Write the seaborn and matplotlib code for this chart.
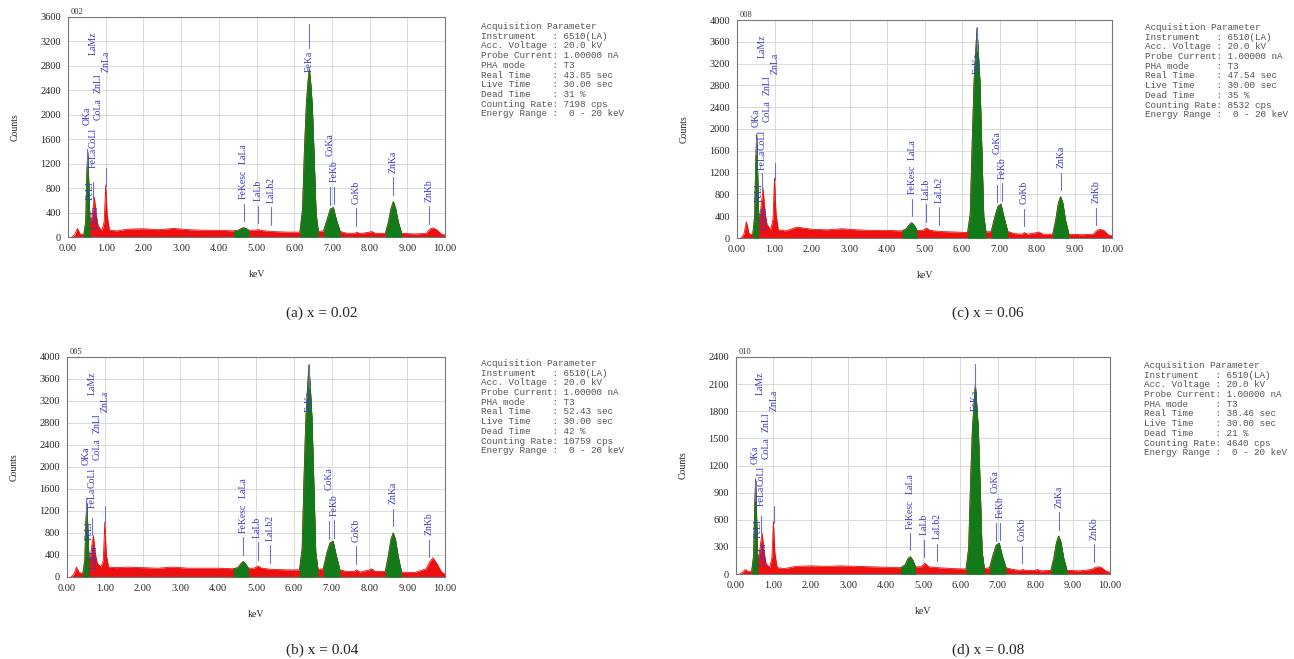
import numpy as np
import matplotlib
matplotlib.use("Agg")
import matplotlib.pyplot as plt
import seaborn as sns
import pandas as pd

# ---------------- data ----------------
energy_kev = [0.10, 0.18, 0.25, 0.32, 0.42, 0.47, 0.50, 0.525, 0.55, 0.58,
              0.62, 0.66, 0.70, 0.74, 0.80, 0.90, 0.96, 1.00, 1.04, 1.10,
              1.30, 1.60, 2.00, 2.40, 2.80, 3.20, 3.60, 4.00, 4.40, 4.52,
              4.60, 4.66, 4.72, 4.80, 4.95, 5.05, 5.15, 5.40, 5.80, 6.15,
              6.22, 6.27, 6.32, 6.36, 6.40, 6.44, 6.48, 6.53, 6.58, 6.64,
              6.78, 6.88, 6.96, 7.04, 7.12, 7.22, 7.40, 7.60, 7.66, 7.75,
              8.00, 8.06, 8.15, 8.42, 8.50, 8.57, 8.63, 8.69, 8.76, 8.85,
              9.20, 9.50, 9.60, 9.68, 9.78, 9.90, 10.00]

counts_002 = [0, 40, 140, 50, 40, 250, 1050, 1400, 900, 300,
              250, 450, 650, 400, 180, 100, 250, 850, 350, 110,
              100, 130, 135, 120, 140, 120, 110, 110, 100, 110,
              140, 150, 140, 110, 110, 120, 105, 90, 80, 80,
              450, 1400, 2150, 2500, 2750, 2500, 2150, 1300, 380, 90,
              100, 300, 460, 480, 280, 90, 60, 60, 80, 55,
              80, 90, 60, 60, 250, 470, 580, 470, 250, 60,
              50, 60, 130, 150, 120, 50, 30]

counts_005 = [0, 50, 180, 80, 70, 300, 1000, 1350, 900, 350,
              350, 600, 750, 450, 250, 180, 300, 1000, 400, 180,
              170, 180, 170, 160, 180, 160, 160, 160, 150, 170,
              240, 280, 240, 160, 160, 200, 160, 140, 130, 130,
              500, 1800, 2900, 3400, 3850, 3400, 2900, 1700, 450, 140,
              150, 450, 620, 650, 400, 130, 100, 100, 130, 90,
              130, 150, 100, 100, 380, 680, 800, 680, 380, 90,
              80, 150, 280, 350, 250, 100, 50]

counts_008 = [0, 60, 300, 80, 60, 400, 1400, 1900, 1200, 400,
              450, 700, 900, 500, 250, 150, 350, 1100, 450, 150,
              130, 200, 160, 150, 170, 150, 140, 140, 130, 170,
              250, 280, 240, 140, 140, 180, 140, 120, 110, 100,
              450, 1700, 2850, 3350, 3850, 3350, 2850, 1600, 400, 110,
              120, 400, 580, 620, 380, 120, 80, 70, 100, 70,
              100, 110, 70, 70, 330, 640, 760, 640, 330, 70,
              60, 70, 140, 160, 140, 60, 40]

counts_010 = [0, 20, 50, 30, 30, 200, 750, 1050, 650, 200,
              200, 350, 450, 280, 120, 70, 180, 580, 230, 70,
              60, 85, 90, 85, 90, 85, 80, 75, 70, 100,
              170, 190, 160, 80, 80, 120, 80, 70, 60, 55,
              280, 1000, 1600, 1850, 2100, 1850, 1600, 950, 250, 60,
              70, 220, 320, 340, 200, 70, 50, 40, 50, 40,
              40, 50, 35, 40, 180, 350, 420, 350, 180, 40,
              35, 50, 70, 80, 70, 30, 20]

sample_ids = ["002", "005", "008", "010"]
captions = ["(a) x = 0.02", "(b) x = 0.04", "(c) x = 0.06", "(d) x = 0.08"]
real_time = ["43.85", "52.43", "47.54", "38.46"]
dead_time = ["31", "42", "35", "21"]
count_rate = ["7198", "10759", "8532", "4640"]
y_max = [3600, 4000, 4000, 2400]
y_step = [400, 400, 400, 300]

line_names = ["OKa", "FeLl", "CoLl", "FeLa", "LaMz", "LaMa", "CoLa", "ZnLl",
              "ZnLa", "FeKesc", "LaLa", "LaLb", "LaLb2", "FeKa", "FeKb",
              "CoKa", "CoKb", "ZnKa", "ZnKb"]
line_kev = [0.50, 0.58, 0.67, 0.67, 0.66, 0.72, 0.80, 0.80,
            1.01, 4.66, 4.66, 5.04, 5.38, 6.40, 7.06,
            6.94, 7.65, 8.63, 9.57]

# identified peak windows (filled green)
green_windows = [(0.42, 0.58), (4.40, 4.80), (6.15, 6.64), (6.78, 7.22), (8.42, 8.85)]

# ---------------- layout / style ----------------
SERIF = "Liberation Serif"
MONO = "Liberation Mono"
RED = "#ec1010"
GREEN = "#127a18"
BLUE = "#3a3ac8"
MARK = "#6f6fd2"

# fixed text levels (axes fraction, center) for stacked labels
fixed_level = {"OKa": 0.55, "FeLl": 0.21, "CoLl": 0.45, "FeLa": 0.36,
               "LaMz": 0.88, "LaMa": 0.09, "CoLa": 0.58, "ZnLl": 0.70,
               "ZnLa": 0.80, "FeKa": 0.80}
stack_extra = {"LaLa": 0.16, "CoKa": 0.12}
draw_marker = {"OKa", "FeLa", "ZnLa", "FeKesc", "LaLb", "LaLb2", "FeKb",
               "CoKa", "CoKb", "ZnKa", "ZnKb"}

W, H = 1294, 659
axes_px = {  # left, right, top, bottom in pixels
    "002": (68, 445, 17, 237),
    "005": (67, 445, 357, 577),
    "008": (737, 1112, 20, 238),
    "010": (736, 1110, 357, 574),
}
caption_px = {"002": (322, 313), "005": (322, 650), "008": (988, 313), "010": (988, 650)}
info_px = {"002": (481, 22), "005": (481, 359), "008": (1145, 23), "010": (1144, 361)}

sns.set_theme(style="white")
plt.rcParams["font.family"] = [SERIF, "DejaVu Sans"]

fig = plt.figure(figsize=(W / 100, H / 100), dpi=100)

all_counts = [counts_002, counts_005, counts_008, counts_010]
E = np.array(energy_kev)

for i, sid in enumerate(sample_ids):
    C = np.array(all_counts[i], dtype=float)
    l, r, t, b = axes_px[sid]
    ax = fig.add_axes([l / W, 1 - b / H, (r - l) / W, (b - t) / H])
    ymax = y_max[i]

    df = pd.DataFrame({"keV": E, "Counts": C})
    ax.fill_between(E, 0, C, color=RED, lw=0, zorder=2)
    sns.lineplot(data=df, x="keV", y="Counts", ax=ax, color=RED, lw=0.6, zorder=3)
    for lo, hi in green_windows:
        m = (E >= lo - 1e-9) & (E <= hi + 1e-9)
        ax.fill_between(E, 0, C, where=m, color=GREEN, lw=0, zorder=4)
        ax.plot(E[m], C[m], color=GREEN, lw=0.6, zorder=4)

    ax.set_xlim(0, 10)
    ax.set_ylim(0, ymax)
    ax.set_xticks(np.arange(0, 10.01, 1))
    ax.set_xticklabels([f"{v:.2f}" for v in np.arange(0, 10.01, 1)], fontsize=7.5, family=SERIF)
    yt = np.arange(0, ymax + 1, y_step[i])
    ax.set_yticks(yt)
    ax.set_yticklabels([str(v) for v in yt], fontsize=7.5, family=SERIF)
    ax.tick_params(axis="both", direction="out", length=3, width=0.6, color="#666666", pad=2)
    ax.grid(True, color="#d4d4d4", lw=0.6, zorder=0)
    for sp in ax.spines.values():
        sp.set_color("#777777")
        sp.set_linewidth(0.8)
    ax.set_xlabel("keV", fontsize=7, family=SERIF)
    ax.set_ylabel("Counts", fontsize=7, family=SERIF)
    ax.xaxis.set_label_coords(0.5, -33 / (b - t))
    ax.yaxis.set_label_coords(-48 / (r - l), 0.5)
    ax.text(0.008, 1.004, sid, transform=ax.transAxes, fontsize=6, family=SERIF,
            ha="left", va="bottom", color="#333333")

    # line markers and labels
    trans = ax.get_xaxis_transform()
    for name, ek in zip(line_names, line_kev):
        local = np.interp(ek, E, C) / ymax
        if name == "FeKa":
            ax.plot([ek, ek], [0.86, 0.97], transform=trans, color=MARK, lw=0.8, zorder=6)
        elif name in draw_marker:
            ax.plot([ek, ek], [local + 0.03, min(local + 0.11, 0.98)], transform=trans,
                    color=MARK, lw=0.8, zorder=6)
        if name in fixed_level:
            ax.text(ek, fixed_level[name], name, transform=trans, rotation=90,
                    ha="center", va="center", fontsize=7, color=BLUE, family=SERIF, zorder=7)
        else:
            yb = local + 0.13 + stack_extra.get(name, 0.0)
            if name == "LaLa":
                yb = np.interp(4.66, E, C) / ymax + 0.13 + stack_extra[name]
            ax.text(ek, yb, name, transform=trans, rotation=90,
                    ha="center", va="bottom", fontsize=7, color=BLUE, family=SERIF, zorder=7)

    # caption
    cx, cy = caption_px[sid]
    fig.text(cx / W, 1 - cy / H, captions[i], ha="center", va="center", fontsize=11, family=SERIF)

    # acquisition parameters
    info = "\n".join([
        "Acquisition Parameter",
        "Instrument   : 6510(LA)",
        "Acc. Voltage : 20.0 kV",
        "Probe Current: 1.00000 nA",
        "PHA mode     : T3",
        f"Real Time    : {real_time[i]} sec",
        "Live Time    : 30.00 sec",
        f"Dead Time    : {dead_time[i]} %",
        f"Counting Rate: {count_rate[i]} cps",
        "Energy Range :  0 - 20 keV",
    ])
    ix, iy = info_px[sid]
    fig.text(ix / W, 1 - iy / H, info, ha="left", va="top", fontsize=6.7, family=MONO,
             color="#555555", linespacing=1.1)

fig.savefig("out.png", dpi=100)
